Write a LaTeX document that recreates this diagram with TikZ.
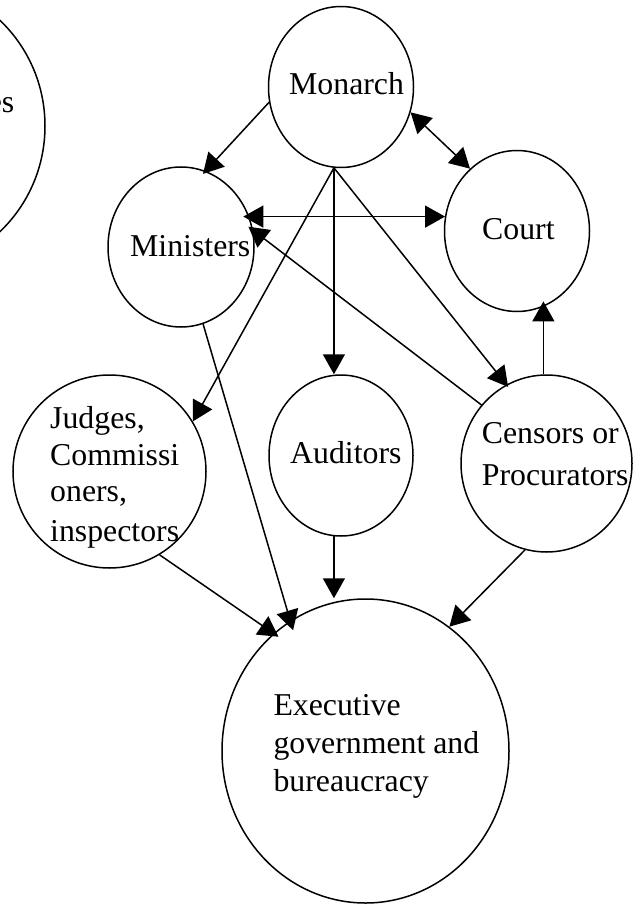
\documentclass[tikz,border=0pt]{standalone}
\usepackage{fontspec}
\setmainfont{Liberation Serif}
\usetikzlibrary{shapes.geometric,arrows.meta}

\begin{document}
\begin{tikzpicture}[x=1pt,y=-1pt,
  bubble/.style={draw, ellipse, line width=1.5pt, inner sep=0pt},
  small/.style={bubble, minimum width=145pt, minimum height=161pt},
  lbl/.style={anchor=base west, inner sep=0pt, font=\fontsize{31.8}{38}\selectfont},
  tip/.tip={Triangle[length=20pt,width=22pt]},
  link/.style={line width=1.5pt, -tip},
  both/.style={line width=1.5pt, tip-tip}]
\useasboundingbox (0,0) rectangle (640,904);

% bodies
\node[bubble, minimum width=286pt, minimum height=290pt] (other) at (-98,126) {};
\node[small] (monarch) at (341,87) {};
\node[small, minimum width=146pt, minimum height=160pt] (ministers) at (181,247) {};
\node[small] (court) at (517,231) {};
\node[small, minimum width=144pt] (auditors) at (341,455.5) {};
\node[bubble, minimum width=171pt, minimum height=177pt] (censors) at (546.5,463.5) {};
\node[bubble, minimum width=193pt, minimum height=193pt] (judges) at (109.5,471.5) {};
\node[bubble, minimum width=287pt, minimum height=304pt] (exec) at (365.5,751) {};

% labels
\node[lbl, anchor=base east] (otherT) at (14.5,113) {es};
\node[lbl] (monarchT) at (289,95) {Monarch};
\node[lbl] (ministersT) at (130,256) {Ministers};
\node[lbl] (courtT) at (482,239.3) {Court};
\node[lbl] (auditorsT) at (290,463.3) {Auditors};
\node[lbl] (censorsT1) at (481.7,443.3) {Censors or};
\node[lbl] (censorsT2) at (481.7,485) {Procurators};
\node[lbl] (judgesT1) at (50,428.3) {Judges,};
\node[lbl] (judgesT2) at (50,465) {Commissi};
\node[lbl] (judgesT3) at (50,501.7) {oners,};
\node[lbl] (judgesT4) at (50,541.7) {inspectors};
\node[lbl] (execT1) at (273.3,715) {Executive};
\node[lbl] (execT2) at (273.3,753.3) {government and};
\node[lbl] (execT3) at (273.3,791.7) {bureaucracy};

% connectors
\draw[link, shorten >=-4pt] (monarch.192.7) -- (ministers.72.8);
\draw[both] (monarch.340.6) -- (court.127.8);
\draw[both, shorten <=-6pt] (ministers.24.7) -- (ministers.24.7 -| court.168.1);
\draw[link] (monarch.265) -- (judges.31.7);
\draw[link] (monarch.265) -- (monarch.265 |- auditors.north);
\draw[link, shorten >=-3pt] (monarch.265) -- (censors.117.5);
\draw[link, shorten >=-6pt] (censors.138.5) -- (ministers.13);
\draw[link, shorten >=-10pt] (ministers.286.7) -- (exec.120.7);
\draw[link, shorten >=-6pt] (judges.301.4) -- (exec.128.7);
\draw[link] (auditors.265) -- (auditors.265 |- exec.north);
\draw[link] (censors.256.3) -- (exec.56.2);
\draw[link, shorten >=-6pt] (censors.92.9) -- (censors.92.9 |- court.288.3);
\end{tikzpicture}
\end{document}
